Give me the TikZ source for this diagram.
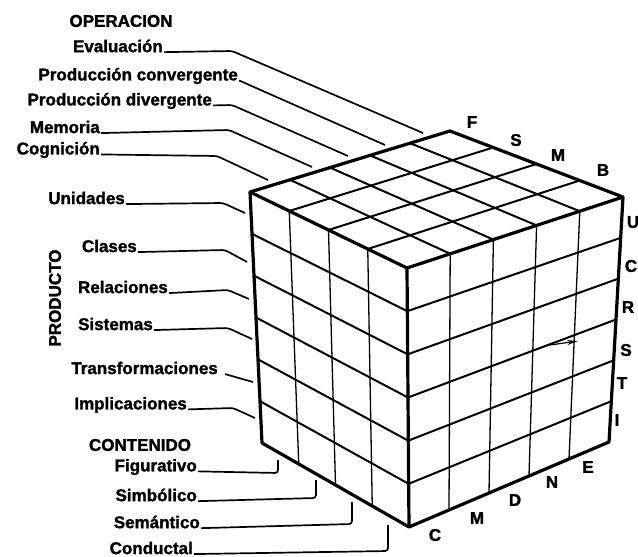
\documentclass[tikz,border=0pt]{standalone}
\usepackage{fontspec}
\setsansfont{Liberation Sans}[BoldFeatures={FakeBold=1.5}]
\usetikzlibrary{calc,arrows.meta}

\begin{document}
\begin{tikzpicture}[x=1pt,y=-1pt,
    lbl/.style={font=\sffamily\bfseries\fontsize{17}{19}\selectfont, inner sep=1pt},
    item/.style={lbl, anchor=east},
    leader/.style={line width=1.7pt, rounded corners=3pt},
    rim/.style={line width=3.2pt, line join=round},
    cell/.style={line width=2pt},
    thincell/.style={line width=1.3pt}]
    \useasboundingbox (0,0) rectangle (638,557);

    % Cube corners
    \coordinate (Lt) at (250,192);
    \coordinate (Bk) at (450,131);
    \coordinate (Rt) at (623,197);
    \coordinate (Ft) at (407,268);
    \coordinate (Lb) at (262,443);
    \coordinate (Fb) at (409,527);
    \coordinate (Rb) at (609,442);

    % Top face
    \foreach \i in {1,2,3}
        \draw[cell] ($(Lt)!\i/4!(Ft)$) -- ($(Bk)!\i/4!(Rt)$);
    \foreach \j in {1,...,4}
        \draw[cell] ($(Ft)!\j/5!(Rt)$) -- ($(Lt)!\j/5!(Bk)$);

    % Left face
    \foreach \i in {1,2,3}
        \draw[thincell] ($(Lt)!\i/4!(Ft)$) -- ($(Lb)!\i/4!(Fb)$);
    \foreach \k in {1,...,5}
        \draw[cell] ($(Lt)!\k/6!(Lb)$) -- ($(Ft)!\k/6!(Fb)$);

    % Right face
    \foreach \j in {1,...,4}
        \draw[thincell] ($(Ft)!\j/5!(Rt)$) -- ($(Fb)!\j/5!(Rb)$);
    \foreach \k in {1,...,5}
        \draw[cell] ($(Ft)!\k/6!(Fb)$) -- ($(Rt)!\k/6!(Rb)$);

    % Outline
    \draw[rim] (Lt) -- (Bk) -- (Rt) -- (Rb) -- (Fb) -- (Lb) -- cycle;
    \draw[rim] (Lt) -- (Ft) -- (Rt);
    \draw[rim] (Ft) -- (Fb);

    % Small arrow on the right face
    \coordinate (ar1) at (550,345);
    \coordinate (ar2) at (578,341);
    \draw[line width=1.2pt, -{Stealth[length=11pt,width=5pt]}] (ar1) -- (ar2);

    % Operaciones
    \node[lbl] (oper) at (121,21) {OPERACION};
    \node[item] (eval) at (164,46) {Evaluación};
    \node[item] (conv) at (239,76) {Producción convergente};
    \node[item] (diver) at (213,101) {Producción divergente};
    \node[item] (memo) at (101,127) {Memoria};
    \node[item] (cogn) at (101,150) {Cognición};

    \draw[leader] (eval.base east) -- (232,51) -- (423,133);
    \draw[leader] (conv.base east) -- (385,145);
    \draw[leader] (diver.base east) -- (232,105) -- (348,156);
    \draw[leader] (memo.base east) -- (229,130) -- (312,167);
    \draw[leader] (cogn.base east) -- (217,156) -- (268,180);

    % Productos
    \node[lbl, rotate=90] (prod) at (55,298) {PRODUCTO};
    \node[item] (unid) at (126,198) {Unidades};
    \node[item] (clas) at (138,246) {Clases};
    \node[item] (rela) at (169,287) {Relaciones};
    \node[item] (sist) at (154,324) {Sistemas};
    \node[item] (tran) at (219,368) {Transformaciones};
    \node[item] (impl) at (188,405) {Implicaciones};

    \draw[leader] (unid.base east) -- (223,203) -- (245,213);
    \draw[leader] (clas.base east) -- (225,250) -- (247,262);
    \draw[leader] (rela.base east) -- (228,290) -- (249,299);
    \draw[leader] (sist.base east) -- (228,328) -- (252,339);
    \draw[leader] ($(tran.base east)+(6,0)$) -- (253,382);
    \draw[leader] (impl.base east) -- (233,408) -- (255,418);

    % Contenidos
    \node[lbl] (cont) at (140,445) {CONTENIDO};
    \node[item] (figu) at (198,467) {Figurativo};
    \node[item] (simb) at (198,495) {Simbólico};
    \node[item] (sema) at (201,522) {Semántico};
    \node[item] (cond) at (194,548) {Conductal};

    \draw[leader] (figu.base east) -- (278,473) -- (278,460);
    \draw[leader] (simb.base east) -- (316,498) -- (316,480);
    \draw[leader] (sema.base east) -- (352,524) -- (352,502);
    \draw[leader] (cond.base east) -- (388,551) -- (388,525);

    % Letters on the cube edges
    \foreach \t/\x/\y in {F/472/122, S/516/140, M/558/155, B/603/170,
                          U/633/222, C/631/266, R/628/307, S/626/350, T/622/383, I/617/420,
                          C/435/535, M/477/518, D/515/500, N/552/482, E/588/467}
        \node[lbl] (l\x) at (\x,\y) {\t};
\end{tikzpicture}
\end{document}
